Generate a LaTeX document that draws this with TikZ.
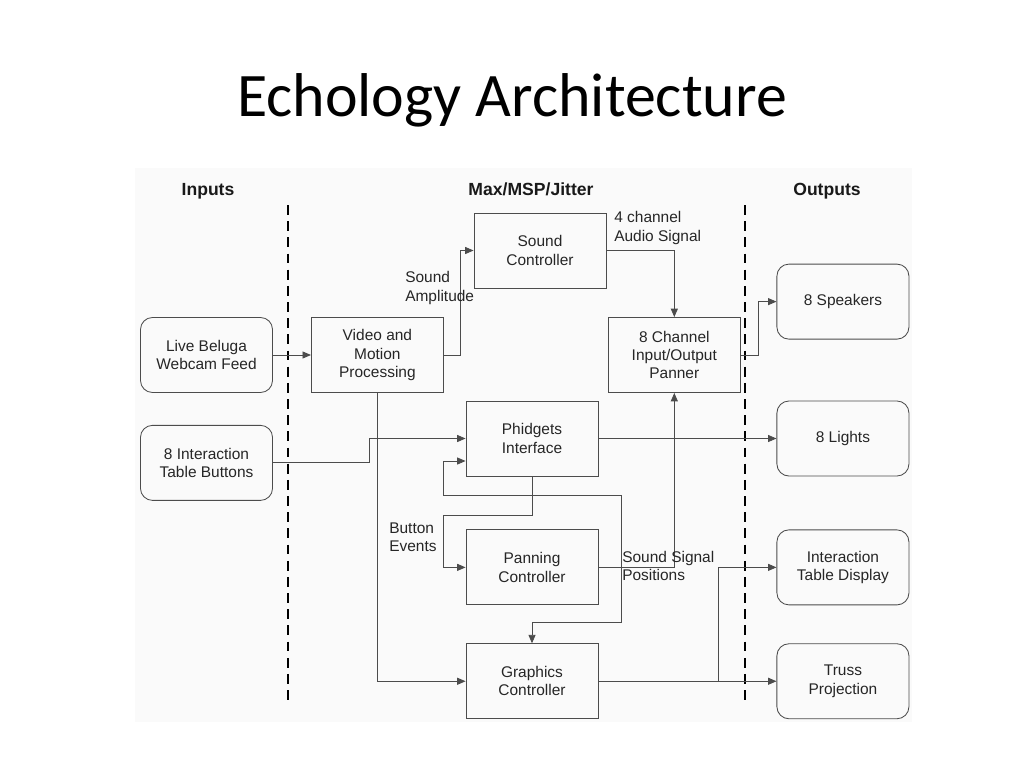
\documentclass[tikz,border=0pt]{standalone}
\usepackage{fontspec}
\setmainfont{Liberation Sans}
\newfontfamily\titlefont{Carlito}
\usetikzlibrary{arrows.meta, positioning}

\begin{document}
\begin{tikzpicture}[
  x=0.025cm, y=-0.025cm,
  block/.style={draw=black!70, line width=0.6pt, rectangle, minimum width=3.3cm, minimum height=1.875cm, inner sep=0pt, align=center, text=black!85, font=\fontsize{11}{13}\selectfont},
  term/.style={block, rounded corners=0.3cm},
  arr/.style={-{Triangle[length=6pt, width=5pt]}, draw=black!70, line width=0.6pt},
  lbl/.style={anchor=west, align=left, inner sep=0pt, text=black!85, font=\fontsize{11}{13}\selectfont},
  head/.style={anchor=base, text=black!90, font=\fontsize{12.5}{15}\selectfont\bfseries},
  divider/.style={line width=2pt, dash pattern=on 7pt off 4.5pt},
  node distance=0.95cm
]
\useasboundingbox (0,0) rectangle (1024,768);
\fill[black!2] (135,168) rectangle (912,722);

\node[font=\titlefont\fontsize{44}{50}\selectfont] (title) at (512,100) {Echology Architecture};

% column headings and dividers
\node[head] (hin) at (208,195.5) {Inputs};
\node[head] (hmax) at (531,195.5) {Max/MSP/Jitter};
\node[head] (hout) at (827,195.5) {Outputs};
\draw[divider] (288,205) -- (288,700);
\draw[divider] (745,205) -- (745,700);

% inputs
\node[term] (webcam) at (206.5,355) {Live Beluga\\Webcam Feed};
\node[term, below=0.8cm of webcam] (buttons) {8 Interaction\\Table Buttons};

% processing
\node[block, right=of webcam] (video) {Video and\\Motion\\Processing};
\node[block] (sound) at (540,250.5) {Sound\\Controller};
\node[block, right=4.1cm of video] (panner) {8 Channel\\Input/Output\\Panner};
\node[block] (phidgets) at (532,438.5) {Phidgets\\Interface};
\node[block, below=1.325cm of phidgets] (panning) {Panning\\Controller};
\node[block, below=of panning] (graphics) {Graphics\\Controller};

% outputs
\node[term, right=4.45cm of phidgets] (lights) {8 Lights};
\node[term, above=1.525cm of lights] (speakers) {8 Speakers};
\node[term, right=4.45cm of panning] (display) {Interaction\\Table Display};
\node[term, right=4.45cm of graphics] (truss) {Truss\\Projection};

\draw[arr] (webcam) -- (video);
\draw[arr] (buttons.east) -- ++(2.4cm,0) |- (phidgets);
\draw[arr] (video.east) -- ++(0.425cm,0) |- (sound);
\draw[arr] (sound) -| (panner);
\draw[arr] (panner.east) -- ++(0.45cm,0) |- (speakers);
\draw[arr] (video) |- (graphics);
\draw[arr] (phidgets) -- (lights);
\coordinate (bev) at (443,515);
\draw[arr] (phidgets.south) |- (bev) |- (panning);
\draw[arr, {Triangle[length=6pt, width=5pt]}-{Triangle[length=6pt, width=5pt]}] ([yshift=-0.5625cm]phidgets.west) -| (443,495) -| (621,622) -| (graphics.north);
\draw[arr] (panning) -| (panner);
\draw[arr] (graphics) -- (truss);
\draw[arr] (graphics.east) -- ++(3cm,0) |- (display);

% connector labels
\node[lbl] (lamp) at (405,288) {Sound\\Amplitude};
\node[lbl] (laud) at (614,228) {4 channel\\Audio Signal};
\node[lbl] (lbtn) at (389,537) {Button\\Events};
\node[lbl] (lpos) at (622,566) {Sound Signal\\Positions};
\end{tikzpicture}
\end{document}
